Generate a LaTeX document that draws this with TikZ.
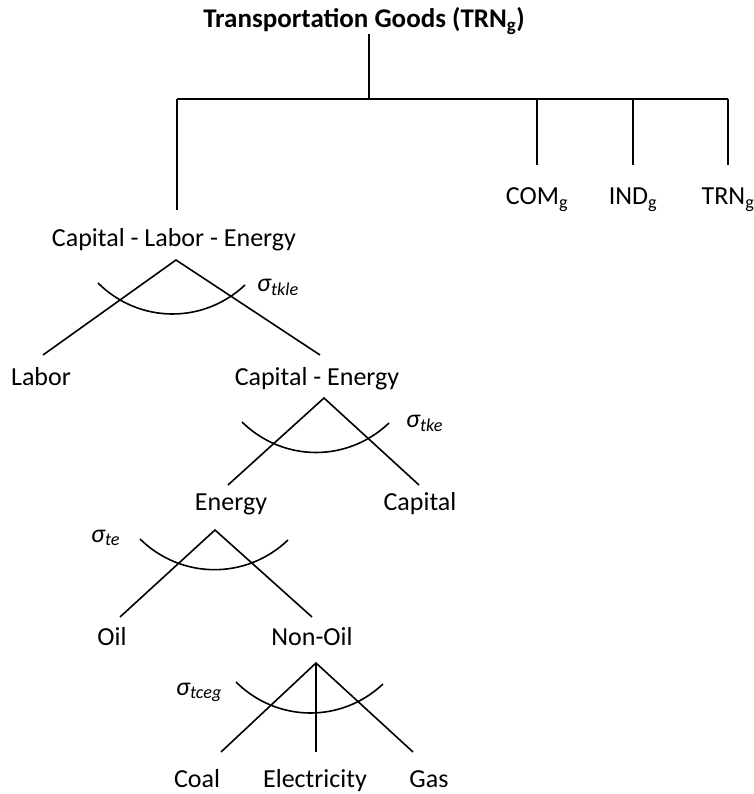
\documentclass[tikz,border=0pt]{standalone}
\usepackage{fontspec}
\setmainfont{Carlito}
\begin{document}
\begin{tikzpicture}[x=1pt,y=-1pt,
  lab/.style={inner sep=0pt, font=\fontsize{26}{30}\selectfont, anchor=base},
  sig/.style={inner sep=0pt, font=\fontsize{26}{30}\selectfont\itshape, anchor=base west},
  ln/.style={line width=1.6pt, line cap=butt},
  elast/.style={line width=1.6pt, bend right=44}]
\useasboundingbox (0,0) rectangle (753,794);
% title and bus
\node[lab, font=\fontsize{27}{31}\selectfont\bfseries] (top) at (364,28) {Transportation Goods (TRN\textsubscript{g})};
\coordinate (t0) at (369,34);
\coordinate (bt) at (369,99);
\coordinate (bl) at (177,99);
\coordinate (bc) at (537,99);
\coordinate (bi) at (633,99);
\coordinate (br) at (728,99);
\coordinate (dl) at (177,210);
\coordinate (dc) at (537,165);
\coordinate (di) at (633,165);
\coordinate (dr) at (728,165);
\draw[ln] (t0) -- (bt);
\draw[ln] (bl) -- (br);
\draw[ln] (bl) -- (dl);
\draw[ln] (bc) -- (dc);
\draw[ln] (bi) -- (di);
\draw[ln] (br) -- (dr);
\node[lab] (com) at (537,205) {COM\textsubscript{g}};
\node[lab] (ind) at (633,205) {IND\textsubscript{g}};
\node[lab] (trn) at (728,205) {TRN\textsubscript{g}};
% Capital - Labor - Energy
\node[lab] (cle) at (174,247) {Capital - Labor - Energy};
\coordinate (a1) at (176,260);
\coordinate (a1l) at (43,355);
\coordinate (a1r) at (320,355);
\draw[ln] (a1l) -- (a1) -- (a1r);
\coordinate (e1a) at (98,283);
\coordinate (e1b) at (245,285);
\draw[elast] (e1a) to (e1b);
\node[sig] (s1) at (257,291) {σ\textsubscript{tkle}};
\node[lab] (labor) at (41,385) {Labor};
\node[lab] (ce) at (317,385) {Capital - Energy};
% Capital - Energy
\coordinate (a2) at (324,398);
\coordinate (a2l) at (228,485);
\coordinate (a2r) at (419,485);
\draw[ln] (a2l) -- (a2) -- (a2r);
\coordinate (e2a) at (242,422);
\coordinate (e2b) at (389,423);
\draw[elast] (e2a) to (e2b);
\node[sig] (s2) at (406,427) {σ\textsubscript{tke}};
\node[lab] (energy) at (231,510) {Energy};
\node[lab] (capital) at (420,510) {Capital};
% Energy
\coordinate (a3) at (215,530);
\coordinate (a3l) at (120,617);
\coordinate (a3r) at (312,617);
\draw[ln] (a3l) -- (a3) -- (a3r);
\coordinate (e3a) at (140,539);
\coordinate (e3b) at (288,540);
\draw[elast] (e3a) to (e3b);
\node[sig] (s3) at (91,542) {σ\textsubscript{te}};
\node[lab] (oil) at (112,645) {Oil};
\node[lab] (nonoil) at (312,645) {Non-Oil};
% Non-Oil
\coordinate (a4) at (316,663);
\coordinate (a4l) at (221,752);
\coordinate (a4m) at (316,752);
\coordinate (a4r) at (413,752);
\draw[ln] (a4l) -- (a4) -- (a4r);
\draw[ln] (a4) -- (a4m);
\coordinate (e4a) at (236,682);
\coordinate (e4b) at (383,684);
\draw[elast] (e4a) to (e4b);
\node[sig] (s4) at (176,695) {σ\textsubscript{tceg}};
\node[lab] (coal) at (197,787) {Coal};
\node[lab] (elec) at (315,787) {Electricity};
\node[lab] (gas) at (429,787) {Gas};
\end{tikzpicture}
\end{document}
